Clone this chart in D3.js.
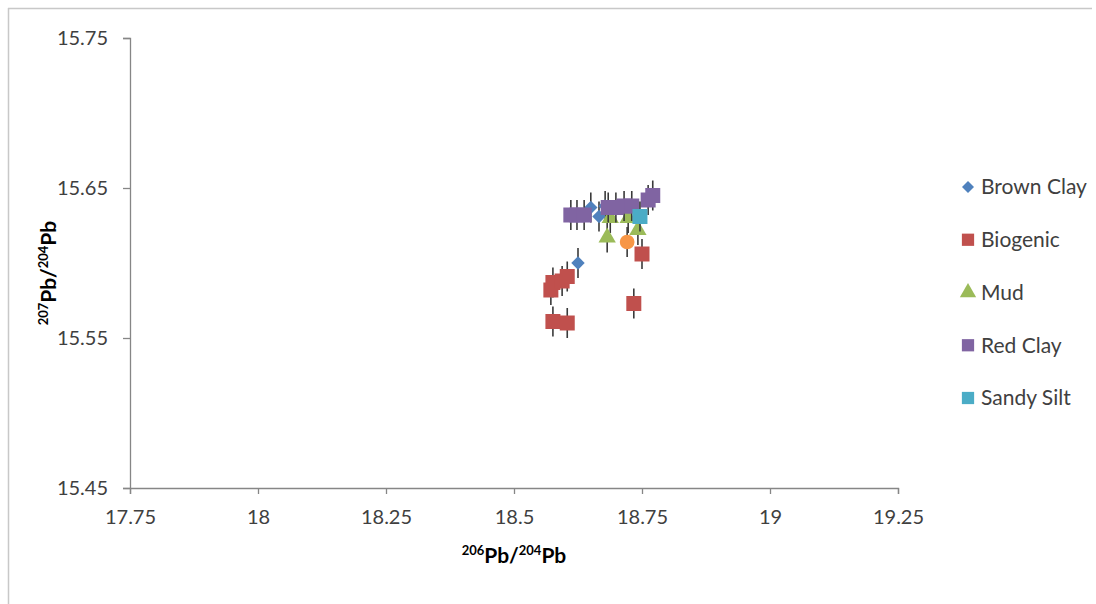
<!DOCTYPE html>
<html>
<head>
<meta charset="utf-8">
<script src="https://cdn.jsdelivr.net/npm/d3@7/dist/d3.min.js"></script>
<style>
  html, body { margin: 0; padding: 0; background: #fff; }
  svg { display: block; }
  text { font-family: Lato, "Open Sans", sans-serif; }
</style>
</head>
<body>
<svg id="chart" width="1096" height="604"></svg>
<script>
// 206Pb/204Pb (x) and 207Pb/204Pb (y) ratios per sediment type
const brownClayX = [18.650, 18.666, 18.678, 18.625];
const brownClayY = [15.637, 15.631, 15.638, 15.600];

const biogenicX = [18.572, 18.576, 18.594, 18.604, 18.576, 18.604, 18.734, 18.750];
const biogenicY = [15.582, 15.587, 15.588, 15.591, 15.561, 15.560, 15.573, 15.606];

const mudX = [18.682, 18.688, 18.723, 18.742];
const mudY = [15.617, 15.630, 15.630, 15.622];

const redClayX = [18.611, 18.623, 18.637, 18.684, 18.699, 18.715, 18.730, 18.762, 18.771];
const redClayY = [15.632, 15.632, 15.632, 15.637, 15.637, 15.638, 15.638, 15.642, 15.645];

const sandySiltX = [18.746];
const sandySiltY = [15.631];

// unlabelled sample
const otherX = [18.721];
const otherY = [15.614];

// vertical error (2σ) on 207Pb/204Pb
const yErr = 0.010;

const xTicks = [17.75, 18, 18.25, 18.5, 18.75, 19, 19.25];
const yTicks = [15.45, 15.55, 15.65, 15.75];

const series = [
  { name: "Brown Clay", xs: brownClayX, ys: brownClayY, color: "#4F81BD", shape: "diamond", legend: true },
  { name: "Biogenic",   xs: biogenicX,  ys: biogenicY,  color: "#C0504D", shape: "square",  legend: true },
  { name: "Mud",        xs: mudX,       ys: mudY,       color: "#9BBB59", shape: "triangle", legend: true },
  { name: "Red Clay",   xs: redClayX,   ys: redClayY,   color: "#8064A2", shape: "square",  legend: true },
  { name: "Sandy Silt", xs: sandySiltX, ys: sandySiltY, color: "#4BACC6", shape: "square",  legend: true },
  { name: "other",      xs: otherX,     ys: otherY,     color: "#F79646", shape: "circle",  legend: false }
];

const svg = d3.select("#chart");

// chart frame
svg.append("line").attr("x1", 8).attr("x2", 1092).attr("y1", 8.5).attr("y2", 8.5)
  .attr("stroke", "#c8c8c8").attr("stroke-width", 1.5);
svg.append("line").attr("x1", 8.5).attr("x2", 8.5).attr("y1", 8).attr("y2", 604)
  .attr("stroke", "#c8c8c8").attr("stroke-width", 1.5);

const x = d3.scaleLinear().domain([17.75, 19.25]).range([130, 898]);
const y = d3.scaleLinear().domain([15.45, 15.75]).range([488, 38]);

const axisColor = "#868686";
const labelColor = "#404040";

// x axis
const gx = svg.append("g").attr("transform", "translate(0,488)")
  .call(d3.axisBottom(x).tickValues(xTicks).tickFormat(d3.format("")).tickSize(6).tickPadding(16));
gx.select(".domain").attr("stroke", axisColor).attr("stroke-width", 1.3);
gx.selectAll(".tick line").attr("stroke", axisColor).attr("stroke-width", 1.3);
gx.selectAll(".tick text").attr("fill", labelColor).style("font-size", "20px")
  .style("font-family", "Lato, sans-serif");

// y axis
const gy = svg.append("g").attr("transform", "translate(130,0)")
  .call(d3.axisLeft(y).tickValues(yTicks).tickFormat(d3.format(".2f")).tickSize(7).tickPadding(15));
gy.select(".domain").attr("stroke", axisColor).attr("stroke-width", 1.3);
gy.selectAll(".tick line").attr("stroke", axisColor).attr("stroke-width", 1.3);
gy.selectAll(".tick text").attr("fill", labelColor).style("font-size", "20px")
  .style("font-family", "Lato, sans-serif");

// axis titles with superscript mass numbers
function isoLabel(sel, a, b) {
  sel.append("tspan").text(a).attr("font-size", "13px").attr("dy", "-8");
  sel.append("tspan").text("Pb/").attr("font-size", "21px").attr("dy", "8");
  sel.append("tspan").text(b).attr("font-size", "13px").attr("dy", "-8");
  sel.append("tspan").text("Pb").attr("font-size", "21px").attr("dy", "8");
}
const xt = svg.append("text").attr("x", 514).attr("y", 563)
  .attr("text-anchor", "middle").attr("font-weight", "bold").attr("fill", "#000");
isoLabel(xt, "206", "204");
const yt = svg.append("text").attr("transform", "translate(56,273) rotate(-90)")
  .attr("text-anchor", "middle").attr("font-weight", "bold").attr("fill", "#000");
isoLabel(yt, "207", "204");

// marker shapes; the diamond is a square turned by 45°
const symbolOf = {
  square: { d: d3.symbol().type(d3.symbolSquare).size(225)(), rot: 0 },
  diamond: { d: d3.symbol().type(d3.symbolSquare).size(90)(), rot: 45 },
  triangle: { d: d3.symbol().type(d3.symbolTriangle).size(130)(), rot: 0 },
  circle: { d: d3.symbol().type(d3.symbolCircle).size(170)(), rot: 0 }
};
const legendSym = {
  square: { d: d3.symbol().type(d3.symbolSquare).size(150)(), rot: 0 },
  diamond: { d: d3.symbol().type(d3.symbolSquare).size(72)(), rot: 45 },
  triangle: { d: d3.symbol().type(d3.symbolTriangle).size(115)(), rot: 0 },
  circle: { d: d3.symbol().type(d3.symbolCircle).size(120)(), rot: 0 }
};

const plot = svg.append("g");

series.forEach(s => {
  const pts = s.xs.map((v, i) => ({ x: v, y: s.ys[i] }));
  const g = plot.append("g");
  // error bars
  g.selectAll("line.err").data(pts).join("line").attr("class", "err")
    .attr("x1", d => x(d.x)).attr("x2", d => x(d.x))
    .attr("y1", d => y(d.y + yErr)).attr("y2", d => y(d.y - yErr))
    .attr("stroke", "#3a3a3a").attr("stroke-width", 1.6);
  // markers
  const sym = symbolOf[s.shape];
  g.selectAll("path.mk").data(pts).join("path").attr("class", "mk")
    .attr("transform", d => `translate(${x(d.x)},${y(d.y)}) rotate(${sym.rot})`)
    .attr("d", sym.d)
    .attr("fill", s.color);
});

// legend
const legendRows = series.filter(s => s.legend);
const lg = svg.append("g");
const rowY = d3.scalePoint().domain(legendRows.map(s => s.name)).range([187, 398]);
legendRows.forEach(s => {
  const cy = rowY(s.name);
  const sym = legendSym[s.shape];
  lg.append("path").attr("transform", `translate(968,${cy}) rotate(${sym.rot})`)
    .attr("d", sym.d).attr("fill", s.color);
  lg.append("text").attr("x", 981).attr("y", cy).attr("dy", "0.35em")
    .attr("fill", labelColor).style("font-size", "21px").text(s.name);
});
</script>
</body>
</html>
